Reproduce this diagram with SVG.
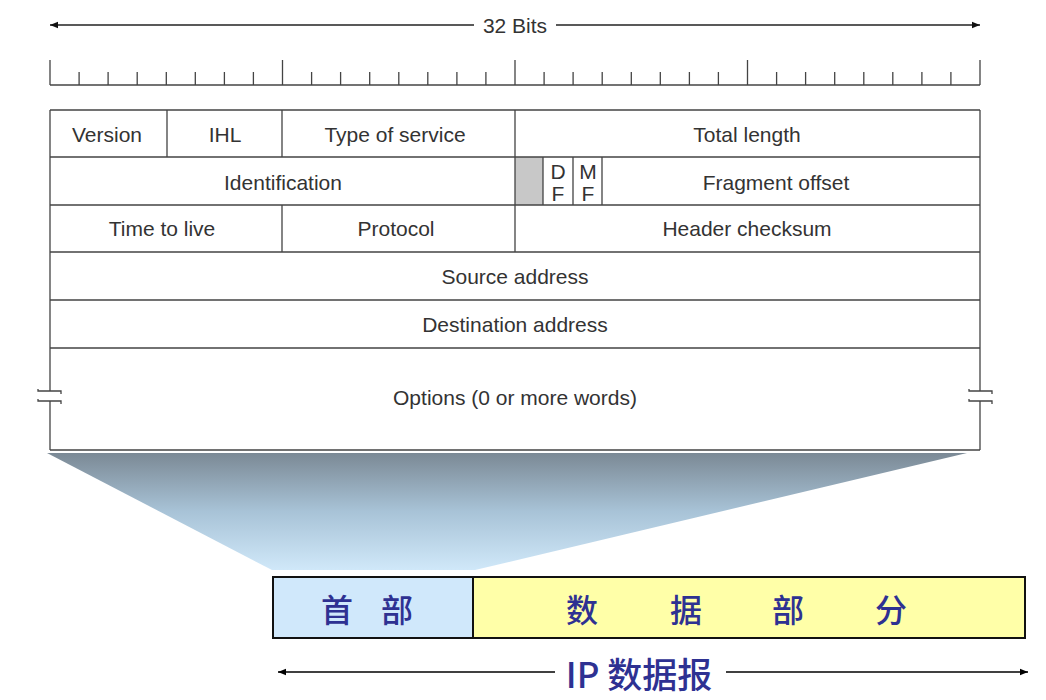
<svg xmlns="http://www.w3.org/2000/svg" width="1046" height="700" viewBox="0 0 1046 700">
<defs>
<linearGradient id="fan" x1="0" y1="0" x2="0" y2="1">
<stop offset="0" stop-color="#7b8995"/>
<stop offset="0.5" stop-color="#a8c3d7"/>
<stop offset="1" stop-color="#d0e8f9"/>
</linearGradient>
<marker id="ah" viewBox="0 0 10 10" refX="10" refY="5" markerWidth="10" markerHeight="8" markerUnits="userSpaceOnUse" orient="auto-start-reverse">
<path d="M0,1 L10,5 L0,9 Z" fill="#111"/>
</marker>
<marker id="ah2" viewBox="0 0 10 10" refX="10" refY="5" markerWidth="12" markerHeight="8" markerUnits="userSpaceOnUse" orient="auto-start-reverse">
<path d="M0,1 L10,5 L0,9 Z" fill="#000"/>
</marker>
</defs>
<style>
.t{font-family:"Liberation Sans",Arial,sans-serif;font-size:21px;fill:#333;text-anchor:middle;dominant-baseline:central}
.ln{stroke:#444;stroke-width:1.3;fill:none}
.cjk{font-family:"Noto Sans CJK SC","Liberation Sans",sans-serif;font-size:32px;font-weight:500;fill:#2e3192;text-anchor:middle;dominant-baseline:central}
</style>
<rect width="1046" height="700" fill="#fff"/>

<g id="connectors">
<line x1="50" y1="25" x2="474" y2="25" stroke="#222" stroke-width="1.3" marker-start="url(#ah)"/>
<line x1="556" y1="25" x2="980" y2="25" stroke="#222" stroke-width="1.3" marker-end="url(#ah)"/>
<line x1="278" y1="672" x2="555" y2="672" stroke="#000" stroke-width="1.5" marker-start="url(#ah2)"/>
<line x1="726" y1="672" x2="1028" y2="672" stroke="#000" stroke-width="1.5" marker-end="url(#ah2)"/>
</g>
<text class="t" x="515" y="25">32 Bits</text>

<g id="ruler" class="ln">
<path d="M50,85 H980"/>
<path d="M50,60 V85 M282.5,60 V85 M515,60 V85 M747.5,60 V85 M980,60 V85"/>
<path d="M79.1,72V85M108.1,72V85M137.2,72V85M166.3,72V85M195.3,72V85M224.4,72V85M253.4,72V85
M311.6,72V85M340.6,72V85M369.7,72V85M398.8,72V85M427.8,72V85M456.9,72V85M485.9,72V85
M544.1,72V85M573.1,72V85M602.2,72V85M631.3,72V85M660.3,72V85M689.4,72V85M718.4,72V85
M776.6,72V85M805.6,72V85M834.7,72V85M863.8,72V85M892.8,72V85M921.9,72V85M950.9,72V85"/>
</g>

<g id="fan-shape">
<polygon points="47,453 967,453 475,570 272,570" fill="url(#fan)"/>
</g>

<g id="header-table">
<rect x="515" y="157" width="28" height="48" fill="#c8c8c8"/>
<path class="ln" d="M50,110 H980 M50,157 H980 M50,205 H980 M50,252 H980 M50,300 H980 M50,348 H980 M50,450 H980"/>
<path class="ln" d="M50,110 V391 M50,401 V450 M980,110 V391 M980,401 V450"/>
<path class="ln" d="M38,389 V391 H61 V394 M38,399 V401 H61 V404"/>
<path class="ln" d="M969,389 V391 H992 V394 M969,399 V401 H992 V404"/>
<path class="ln" d="M167,110 V157 M282,110 V157 M515,110 V252 M543,157 V205 M573,157 V205 M602,157 V205 M282,205 V252"/>
</g>
<g id="f-version"><text class="t" x="107" y="134">Version</text></g>
<g id="f-ihl"><text class="t" x="225" y="134">IHL</text></g>
<g id="f-tos"><text class="t" x="395" y="134">Type of service</text></g>
<g id="f-len"><text class="t" x="747" y="134">Total length</text></g>
<g id="f-id"><text class="t" x="283" y="182">Identification</text></g>
<g id="f-df"><text class="t" x="558" y="171">D</text><text class="t" x="558" y="193">F</text></g>
<g id="f-mf"><text class="t" x="588" y="171">M</text><text class="t" x="588" y="193">F</text></g>
<g id="f-frag"><text class="t" x="776" y="182">Fragment offset</text></g>
<g id="f-ttl"><text class="t" x="162" y="228">Time to live</text></g>
<g id="f-proto"><text class="t" x="396" y="228">Protocol</text></g>
<g id="f-csum"><text class="t" x="747" y="228">Header checksum</text></g>
<g id="f-src"><text class="t" x="515" y="276">Source address</text></g>
<g id="f-dst"><text class="t" x="515" y="324">Destination address</text></g>
<g id="f-opt"><text class="t" x="515" y="397">Options (0 or more words)</text></g>

<g id="datagram-header">
<rect x="273" y="577" width="200" height="61" fill="#d0e8fb" stroke="#111" stroke-width="2"/>
<text class="cjk" x="337" y="608">首</text>
<text class="cjk" x="397" y="608">部</text>
</g>
<g id="datagram-data">
<rect x="473" y="577" width="552" height="61" fill="#ffffa8" stroke="#111" stroke-width="2"/>
<text class="cjk" x="582" y="608">数</text>
<text class="cjk" x="686" y="608">据</text>
<text class="cjk" x="788" y="608">部</text>
<text class="cjk" x="891" y="608">分</text>
</g>
<g id="datagram-label">
<text class="cjk" x="639" y="672" style="font-size:35px">IP 数据报</text>
</g>
</svg>
